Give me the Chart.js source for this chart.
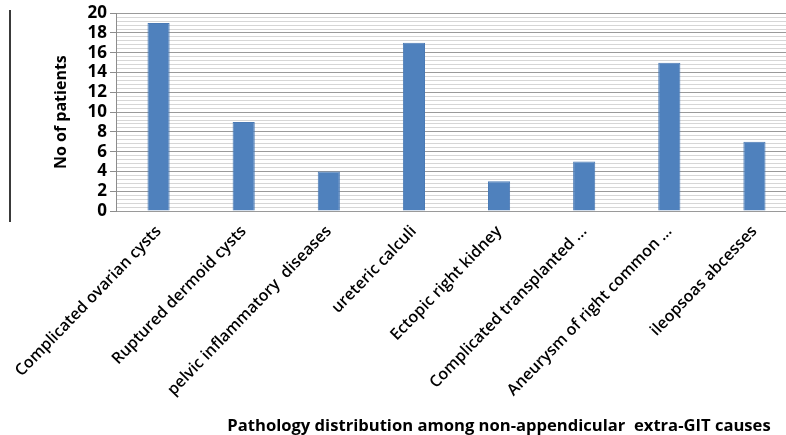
<!DOCTYPE html>
<html>
<head>
<meta charset="utf-8">
<script src="https://cdn.jsdelivr.net/npm/chart.js@4.4.0/dist/chart.umd.min.js"></script>
<style>
  html, body { margin: 0; padding: 0; background: #fff; overflow: hidden; }
  #wrap { position: relative; width: 786px; height: 435px; overflow: hidden; }
  #box { position: absolute; left: 0; top: 0; width: 797px; height: 435px; }
  #edge { position: absolute; left: 9px; top: 10px; width: 2px; height: 212px; background: #3a3a3a; }
  #xTitle {
    position: absolute; left: 0; width: 1000px; top: 413px; text-align: center;
    font: bold 16.6px "Open Sans", "Liberation Sans", sans-serif; color: #000; white-space: pre;
  }
</style>
</head>
<body>
<div id="wrap">
  <div id="box"><canvas id="barChart"></canvas></div>
  <div id="edge"></div>
  <div id="xTitle"></div>
</div>
<script>
// Datos del gráfico
const causes = [
    'Complicated ovarian cysts',
    'Ruptured dermoid cysts',
    'pelvic inflammatory  diseases',
    'ureteric calculi',
    'Ectopic right kidney',
    'Complicated transplanted ...',
    'Aneurysm of right common ...',
    'ileopsoas abcesses'
];
const patients = [19, 9, 4, 17, 3, 5, 15, 7];
const yMax = 20;
const yMajorStep = 2;
const yMinorStep = 0.4;
const xTitleText = 'Pathology distribution among non-appendicular  extra-GIT causes';

const fontFamily = '"Open Sans", "Liberation Sans", sans-serif';

// El título del eje x va centrado en x≈499, como en la imagen
document.getElementById('xTitle').textContent = xTitleText;
document.getElementById('xTitle').style.left = (499 - 500) + 'px';

function isMajor(v) {
    return Math.abs(v / yMajorStep - Math.round(v / yMajorStep)) < 1e-6;
}

const ctx = document.getElementById('barChart').getContext('2d');
const barChart = new Chart(ctx, {
    type: 'bar',
    data: {
        labels: causes,
        datasets: [{
            label: 'No of patients',
            data: patients,
            backgroundColor: '#4f81bd',
            borderColor: '#4a7ab5',
            borderWidth: 1,
            barPercentage: 0.26,
            categoryPercentage: 1
        }]
    },
    options: {
        responsive: true,
        maintainAspectRatio: false,
        animation: false,
        layout: { padding: { left: 0, right: 0, top: 0, bottom: 0 } },
        plugins: {
            legend: { display: false },
            tooltip: { enabled: false }
        },
        scales: {
            x: {
                grid: { display: false },
                border: { display: false },
                ticks: {
                    autoSkip: false,
                    maxRotation: 46,
                    minRotation: 46,
                    padding: 3,
                    color: '#000',
                    font: { family: fontFamily, size: 16, weight: '600' }
                },
                afterFit: function (scale) {
                    scale.height = 224;
                }
            },
            y: {
                min: 0,
                max: yMax,
                border: { display: true, color: '#8c8c8c', width: 1 },
                grid: {
                    color: function (c) {
                        return isMajor(c.tick.value) ? '#9a9a9a' : '#d6d6d6';
                    },
                    tickColor: function (c) {
                        return isMajor(c.tick.value) ? '#8c8c8c' : 'rgba(0,0,0,0)';
                    },
                    tickLength: 6,
                    lineWidth: 1
                },
                ticks: {
                    stepSize: yMinorStep,
                    autoSkip: false,
                    padding: 3,
                    color: '#000',
                    font: { family: fontFamily, size: 17, weight: 'bold' },
                    callback: function (value) {
                        return isMajor(value) ? String(Math.round(value)) : '';
                    }
                },
                title: {
                    display: true,
                    text: 'No of patients',
                    color: '#000',
                    font: { family: fontFamily, size: 16, weight: 'bold' },
                    padding: { top: 52, bottom: 0 }
                },
                afterFit: function (scale) {
                    scale.width = 116;
                }
            }
        }
    }
});
</script>
</body>
</html>
